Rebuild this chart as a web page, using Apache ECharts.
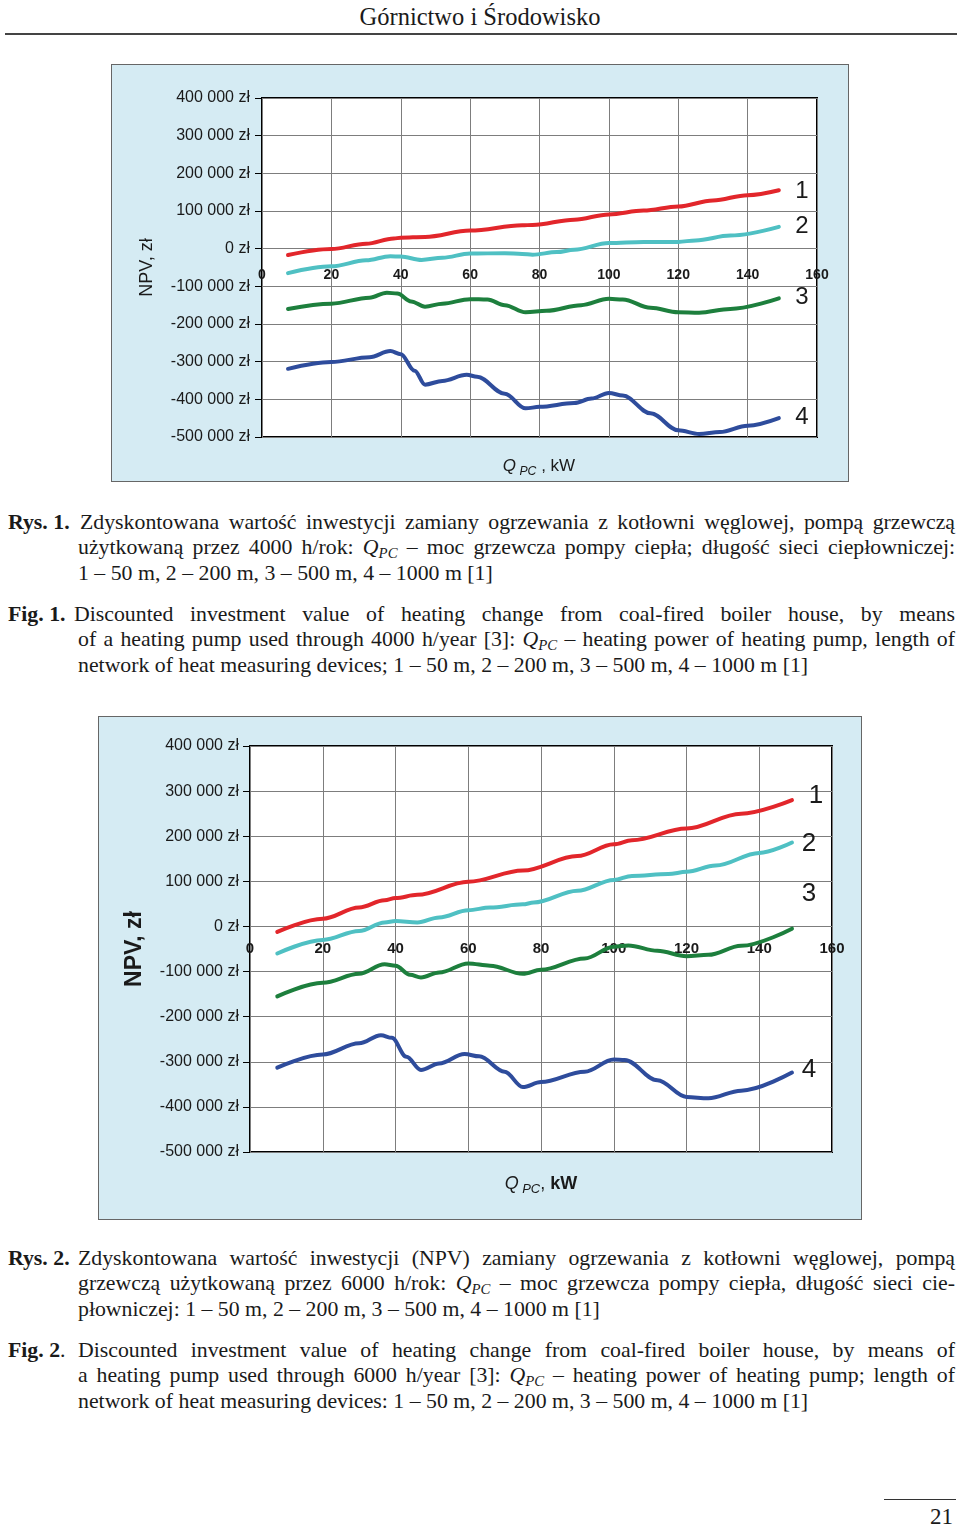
<!DOCTYPE html>
<html><head><meta charset="utf-8">
<script src="https://cdn.jsdelivr.net/npm/echarts@6/dist/echarts.min.js"></script>
<style>
body{margin:0;width:960px;height:1526px;background:#fff;position:relative;overflow:hidden;font-family:"Liberation Serif","Times New Roman",serif;color:#1a1a1a;}
.hdr{position:absolute;left:0;width:960px;top:2px;text-align:center;font-size:24.5px;line-height:30px;}
.rule{position:absolute;left:5px;width:952px;top:33px;height:2px;background:#444;}
.panel{position:absolute;background:#d5ebf3;border:1px solid #666;box-sizing:border-box;}
.ln{position:absolute;font-size:21.8px;line-height:26px;height:26px;text-align:justify;text-align-last:justify;white-space:nowrap;overflow:visible;}
.ln.last{text-align-last:left;}
.lab{display:inline-block;font-weight:bold;text-align:left;text-align-last:left;}
.q{font-style:italic;}
.q sub{font-size:0.68em;vertical-align:-0.25em;line-height:0;}
.pg{position:absolute;left:930px;top:1504px;font-size:23px;line-height:26px;}
.pgrule{position:absolute;left:884px;width:72px;top:1499px;height:1px;background:#333;}
</style>
</head>
<body>
<div class="hdr">Górnictwo i Środowisko</div>
<div class="rule"></div>

<div id="c1" class="panel" style="left:111px;top:64px;width:738px;height:418px;"></div>

<div class="ln" style="left:8px;top:509px;width:947px;"><span class="lab" style="width:72px;">Rys. 1.</span>Zdyskontowana wartość inwestycji zamiany ogrzewania z kotłowni węglowej, pompą grzewczą</div>
<div class="ln" style="left:78px;top:534px;width:877px;">użytkowaną przez 4000 h/rok: <span class="q">Q<sub>PC</sub></span> – moc grzewcza pompy ciepła; długość sieci ciepłowniczej:</div>
<div class="ln last" style="left:78px;top:560px;width:877px;">1 – 50 m, 2 – 200 m, 3 – 500 m, 4 – 1000 m [1]</div>

<div class="ln" style="left:8px;top:601px;width:947px;"><span class="lab" style="width:66px;">Fig. 1.</span>Discounted investment value of heating change from coal-fired boiler house, by means</div>
<div class="ln" style="left:78px;top:626px;width:877px;">of a heating pump used through 4000 h/year [3]: <span class="q">Q<sub>PC</sub></span> – heating power of heating pump, length of</div>
<div class="ln last" style="left:78px;top:652px;width:877px;">network of heat measuring devices; 1 – 50 m, 2 – 200 m, 3 – 500 m, 4 – 1000 m [1]</div>

<div id="c2" class="panel" style="left:98px;top:716px;width:764px;height:504px;"></div>

<div class="ln" style="left:8px;top:1245px;width:947px;"><span class="lab" style="width:70px;">Rys. 2.</span>Zdyskontowana wartość inwestycji (NPV) zamiany ogrzewania z kotłowni węglowej, pompą</div>
<div class="ln" style="left:78px;top:1270px;width:877px;">grzewczą użytkowaną przez 6000 h/rok: <span class="q">Q<sub>PC</sub></span> – moc grzewcza pompy ciepła, długość sieci cie-</div>
<div class="ln last" style="left:78px;top:1296px;width:877px;">płowniczej: 1 – 50 m, 2 – 200 m, 3 – 500 m, 4 – 1000 m [1]</div>

<div class="ln" style="left:8px;top:1337px;width:947px;"><span class="lab" style="width:70px;">Fig. 2<span style="font-weight:normal">.</span></span>Discounted investment value of heating change from coal-fired boiler house, by means of</div>
<div class="ln" style="left:78px;top:1362px;width:877px;">a heating pump used through 6000 h/year [3]: <span class="q">Q<sub>PC</sub></span> – heating power of heating pump; length of</div>
<div class="ln last" style="left:78px;top:1388px;width:877px;">network of heat measuring devices: 1 – 50 m, 2 – 200 m, 3 – 500 m, 4 – 1000 m [1]</div>

<div class="pgrule"></div>
<div class="pg">21</div>

<script>
// ---- data (x = Q_PC [kW], y = NPV [zł]) ----
const xTicks = [0, 20, 40, 60, 80, 100, 120, 140, 160];
const yTicks = [-500000, -400000, -300000, -200000, -100000, 0, 100000, 200000, 300000, 400000];
const seriesNames = ['1', '2', '3', '4'];

// Fig. 1 (4000 h/rok)
const fig1_s1 = [[7.5,-17000],[20,-1000],[30,13000],[38,27000],[40,29000],[47,31000],[60,48000],[75,62000],[78,63000],[90,77000],[100,91000],[110,101000],[120,112000],[130,128000],[140,142000],[149,155000]];
const fig1_s2 = [[7.5,-65000],[20,-47000],[30,-31000],[37,-20000],[40,-21000],[46,-30000],[52,-24000],[60,-13000],[70,-12000],[75,-14000],[78,-16000],[85,-9000],[90,-3000],[100,15000],[110,18000],[120,18000],[125,22000],[135,35000],[149,58000]];
const fig1_s3 = [[7.5,-160000],[20,-146000],[31,-130000],[36,-117000],[39,-119000],[43,-140000],[47,-154000],[52,-146000],[60,-134000],[65,-135000],[70,-150000],[76,-169000],[82,-165000],[92,-150000],[100,-133000],[104,-135000],[112,-157000],[120,-169000],[126,-170000],[135,-160000],[149,-132000]];
const fig1_s4 = [[7.5,-319000],[20,-301000],[31,-288000],[37,-272000],[40,-280000],[44,-324000],[47,-361000],[52,-351000],[59,-335000],[62,-340000],[70,-385000],[76,-424000],[80,-420000],[90,-410000],[95,-398000],[100,-383000],[104,-390000],[112,-437000],[120,-482000],[126,-492000],[132,-487000],[140,-470000],[149,-450000]];

// Fig. 2 (6000 h/rok)
const fig2_s1 = [[7.5,-12000],[20,17000],[30,42000],[37,58000],[40,63000],[46,70000],[60,99000],[75,124000],[90,156000],[100,182000],[105,191000],[120,217000],[135,250000],[149,280000]];
const fig2_s2 = [[7.5,-60000],[20,-30000],[30,-10000],[37,9000],[40,12000],[46,9000],[52,20000],[60,36000],[66,42000],[75,49000],[78,53000],[90,79000],[100,103000],[105,112000],[115,116000],[120,121000],[128,135000],[140,163000],[149,186000]];
const fig2_s3 = [[7.5,-155000],[20,-125000],[30,-105000],[37,-84000],[40,-87000],[44,-107000],[47,-113000],[52,-102000],[60,-82000],[66,-87000],[75,-105000],[80,-96000],[92,-71000],[100,-45000],[104,-42000],[112,-54000],[120,-66000],[126,-63000],[135,-43000],[149,-5000]];
const fig2_s4 = [[7.5,-313000],[20,-284000],[30,-259000],[36,-241000],[39,-247000],[43,-289000],[47,-318000],[52,-304000],[59,-283000],[63,-288000],[70,-322000],[75,-356000],[80,-345000],[92,-322000],[100,-295000],[103,-296000],[112,-341000],[120,-378000],[126,-381000],[135,-364000],[149,-324000]];

const colors = ['#e2262b', '#4fc0c3', '#1d7f3d', '#2e4c9c'];

function fmt(v){
  const s = Math.abs(v).toString().replace(/\B(?=(\d{3})+(?!\d))/g, ' ');
  return (v < 0 ? '-' : '') + s + ' zł';
}

function makeOption(cfg){
  const sans = '"Liberation Sans", Arial, sans-serif';
  const yMin = yTicks[0], yMax = yTicks[yTicks.length-1];
  // x-axis labels sit on the zero line: shift the axis up from the grid bottom
  const zeroOffset = -cfg.grid[3] * (0 - yMin) / (yMax - yMin);
  return {
    animation: false,
    backgroundColor: 'transparent',
    grid: { left: cfg.grid[0], top: cfg.grid[1], width: cfg.grid[2], height: cfg.grid[3],
            show: true, backgroundColor: '#fff', borderColor: '#000', borderWidth: 2 },
    xAxis: {
      type: 'value', min: xTicks[0], max: xTicks[xTicks.length-1], interval: xTicks[1]-xTicks[0],
      position: 'bottom', offset: zeroOffset,
      axisLine: { show: false, onZero: false },
      axisTick: { show: false },
      axisLabel: { margin: cfg.xMargin, fontSize: cfg.xFont, fontWeight: 'bold', color: '#1a1a1a',
                   fontFamily: sans, showMinLabel: true, showMaxLabel: true },
      splitLine: { show: true, lineStyle: { color: '#7d7d7d', width: 1 } }
    },
    yAxis: {
      type: 'value', min: yMin, max: yMax, interval: yTicks[1]-yTicks[0],
      axisLine: { show: false, onZero: false },
      axisTick: { show: true, length: 7, lineStyle: { color: '#000', width: 1 } },
      axisLabel: { margin: cfg.yMargin, fontSize: cfg.yFont, color: '#1a1a1a', fontFamily: sans, formatter: fmt },
      splitLine: { show: true, lineStyle: { color: '#7d7d7d', width: 1 } },
      name: 'NPV, zł', nameLocation: 'middle', nameGap: cfg.nameGap, nameRotate: 90,
      nameTextStyle: { fontSize: cfg.nameFont, fontWeight: cfg.nameWeight, color: '#1a1a1a', fontFamily: sans }
    },
    series: cfg.data.map((d, i) => ({
      type: 'line', name: seriesNames[i], data: d, showSymbol: false, symbol: 'none',
      smooth: 0.35, smoothMonotone: 'x',
      lineStyle: { color: colors[i], width: 4, cap: 'round', join: 'round' },
      z: 3
    })),
    graphic: [
      {
        type: 'text', x: cfg.xName[0], y: cfg.xName[1], z: 10,
        style: {
          text: '{q|Q} {s|PC}{n|' + cfg.xNameTail + '}{b|kW}',
          align: 'center', verticalAlign: 'middle',
          rich: {
            q: { fontSize: cfg.xNameFont, fontStyle: 'italic', fontFamily: sans, fill: '#1a1a1a', lineHeight: 24, verticalAlign: 'middle' },
            s: { fontSize: cfg.xNameFont*0.72, fontStyle: 'italic', fontFamily: sans, fill: '#1a1a1a', lineHeight: 24, verticalAlign: 'bottom' },
            n: { fontSize: cfg.xNameFont, fontFamily: sans, fill: '#1a1a1a', lineHeight: 24, verticalAlign: 'middle' },
            b: { fontSize: cfg.xNameFont, fontWeight: cfg.kwWeight, fontFamily: sans, fill: '#1a1a1a', lineHeight: 24, verticalAlign: 'middle' }
          }
        }
      }
    ].concat(cfg.labels.map((p, i) => ({
      type: 'text', x: p[0], y: p[1], z: 10,
      style: { text: seriesNames[i], fill: '#1a1a1a', font: cfg.labelFont + 'px "Liberation Sans Narrow", "Liberation Sans", Arial, sans-serif',
               align: 'center', verticalAlign: 'middle' }
    })))
  };
}

const c1 = echarts.init(document.getElementById('c1'), null, { renderer: 'canvas' });
c1.setOption(makeOption({
  grid: [150, 33, 555, 339],
  xMargin: 19, xFont: 14, yMargin: 12, yFont: 16,
  nameGap: 106, nameFont: 18, nameWeight: 'normal',
  xName: [427, 401], xNameFont: 17, xNameTail: ' , ', kwWeight: 'normal',
  labelFont: 24,
  labels: [[690, 126], [690, 161], [690, 232], [690, 352]],
  data: [fig1_s1, fig1_s2, fig1_s3, fig1_s4]
}));

const c2 = echarts.init(document.getElementById('c2'), null, { renderer: 'canvas' });
c2.setOption(makeOption({
  grid: [151, 29, 582, 406],
  xMargin: 15, xFont: 15, yMargin: 11, yFont: 16,
  nameGap: 104, nameFont: 23, nameWeight: 'bold',
  xName: [442, 467], xNameFont: 18, xNameTail: ', ', kwWeight: 'bold',
  labelFont: 26,
  labels: [[717, 79], [710, 127], [710, 177], [710, 353]],
  data: [fig2_s1, fig2_s2, fig2_s3, fig2_s4]
}));
</script>
</body></html>
